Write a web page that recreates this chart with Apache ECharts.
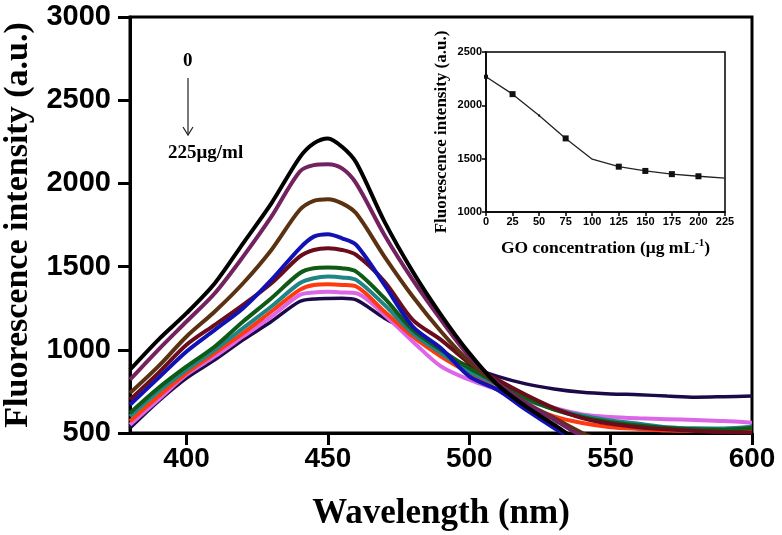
<!DOCTYPE html>
<html><head><meta charset="utf-8">
<script src="https://cdn.jsdelivr.net/npm/echarts@6/dist/echarts.min.js"></script>
<style>html,body{margin:0;padding:0;background:#fff}#c{width:782px;height:535px}</style>
</head><body><div id="c"></div>
<script>
const wavelengths = [380,390,400,410,420,430,440,445,450,455,460,470,480,490,500,510,520,530,540,550,560,570,580,590,600];
const concLabels = ['0','25','50','75','100','125','150','175','200','225'];
const s0   = [880,1060,1220,1400,1640,1880,2155,2240,2270,2220,2125,1770,1470,1210,980,790,660,550,440,380];
const s25  = [820,1000,1170,1340,1560,1800,2070,2110,2115,2090,2000,1690,1420,1180,960,800,680,580,480,420];
const s50  = [740,900,1080,1230,1400,1600,1840,1895,1905,1880,1820,1560,1320,1110,930,790,680,590,500,430];
const s75  = [670,830,990,1120,1250,1420,1610,1680,1694,1670,1630,1390,1140,1010,840,760,640,530,430];
const s100 = [700,860,1030,1150,1270,1400,1560,1600,1610,1600,1570,1410,1180,1060,920,820,730,650,590,555,535,522,512,506,503];
const s125 = [620,770,900,1020,1170,1310,1460,1490,1494,1490,1470,1310,1120,1000,890,800,710,640,595,565,545,530,522,520,530];
const s150 = [600,750,880,1000,1130,1260,1400,1430,1440,1435,1420,1270,1100,980,870,790,700,645,605,575,555,535,528,527,537];
const s175 = [570,720,860,980,1100,1230,1360,1390,1394,1390,1380,1230,1080,960,860,760,670,600,560,535,524,515,512,510,510];
const s200 = [550,700,850,960,1080,1200,1330,1345,1349,1345,1340,1210,1050,900,820,760,700,650,612,596,588,583,578,572,562];
const s225 = [530,690,830,940,1060,1170,1290,1305,1309,1310,1300,1190,1100,980,900,840,795,765,745,735,730,722,715,718,722];
const allSeries = [s0,s25,s50,s75,s100,s125,s150,s175,s200,s225];
const colors = ['#000000','#74215f','#5a3212','#1212b4','#6a0c1c','#0e5a16','#1f8585','#ff3a10','#dd66e8','#1c0a48'];

const insetX = [0,25,50,75,100,125,150,175,200,225];
const insetY = [2268,2105,1905,1690,1495,1425,1385,1355,1335,1318];
const insetMarker = [4,6,2,6,0,6,6,6,6,0];

const chart = echarts.init(document.getElementById('c'));
const series = allSeries.map((arr,i)=>({
  type:'line', name:concLabels[i], xAxisIndex:0, yAxisIndex:0,
  data: arr.map((v,j)=>[wavelengths[j],v]),
  showSymbol:false, symbol:'none', clip:true, smooth:0.3,
  lineStyle:{color:colors[i], width: i===9?3.5:4},
  z: 2 + (9-i)
}));
series.push({
  type:'line', xAxisIndex:1, yAxisIndex:1,
  data: insetX.map((x,i)=>[x,insetY[i]]),
  symbol:'rect', symbolSize:(v,p)=>insetMarker[p.dataIndex],
  itemStyle:{color:'#111'}, lineStyle:{color:'#222',width:1.3}, z:20
});
const plain = v => String(v);
const tickFont = {fontFamily:'Liberation Sans, Arial', fontWeight:'bold', color:'#000'};
chart.setOption({
  animation:false,
  backgroundColor:'#fff',
  grid:[
    {left:130,right:30,top:17,bottom:102,containLabel:false,outerBoundsMode:'none',show:true,borderColor:'#000',borderWidth:3,backgroundColor:'transparent'},
    {left:486,right:57,top:52,bottom:323,containLabel:false,outerBoundsMode:'none',show:true,borderColor:'#000',borderWidth:1.5,backgroundColor:'#fff',z:10}
  ],
  xAxis:[
    {type:'value',gridIndex:0,min:380,max:600,interval:50,
      axisLine:{show:true,lineStyle:{color:'#000',width:3}},
      axisTick:{show:true,length:12,inside:false,lineStyle:{width:3,color:'#000'},customValues:[400,450,500,550,600]},
      axisLabel:{...tickFont,fontSize:28,margin:12,customValues:[400,450,500,550,600],formatter:plain},
      splitLine:{show:false},
      name:'Wavelength (nm)',nameLocation:'middle',nameGap:63,
      nameTextStyle:{fontFamily:'Liberation Serif, Times New Roman',fontWeight:'bold',fontSize:35,color:'#000'}},
    {type:'value',gridIndex:1,min:0,max:225,interval:25,z:11,
      axisLine:{show:true,lineStyle:{color:'#000',width:1.5}},
      axisTick:{show:true,length:4,lineStyle:{width:1.5,color:'#000'}},
      axisLabel:{...tickFont,fontSize:11,margin:4,formatter:plain},
      splitLine:{show:false},
      name:'GO concentration (μg mL{s|-1})',nameLocation:'middle',nameGap:26,
      nameTextStyle:{fontFamily:'Liberation Serif, Times New Roman',fontWeight:'bold',fontSize:17.5,color:'#000',
        rich:{s:{fontFamily:'Liberation Serif',fontWeight:'bold',fontSize:11,verticalAlign:'top',padding:[0,0,9,0]}}}}
  ],
  yAxis:[
    {type:'value',gridIndex:0,min:500,max:3000,interval:500,
      axisLine:{show:true,lineStyle:{color:'#000',width:3}},
      axisTick:{show:true,length:12,lineStyle:{width:3,color:'#000'}},
      axisLabel:{...tickFont,fontSize:29,margin:19,formatter:plain},
      splitLine:{show:false},
      name:'Fluorescence intensity (a.u.)',nameLocation:'middle',nameGap:93,
      nameTextStyle:{fontFamily:'Liberation Serif, Times New Roman',fontWeight:'bold',fontSize:34,color:'#000'}},
    {type:'value',gridIndex:1,min:1000,max:2500,interval:500,z:11,
      axisLine:{show:true,lineStyle:{color:'#000',width:1.5}},
      axisTick:{show:true,length:4,lineStyle:{width:1.5,color:'#000'}},
      axisLabel:{...tickFont,fontSize:11,margin:4,formatter:plain},
      splitLine:{show:false},
      name:'Fluorescence intensity (a.u.)',nameLocation:'middle',nameGap:36,
      nameTextStyle:{fontFamily:'Liberation Serif, Times New Roman',fontWeight:'bold',fontSize:17,color:'#000'}}
  ],
  graphic:[
    {type:'text',left:183,top:52,style:{text:'0',font:'bold 19px "Liberation Serif"',fill:'#000'}},
    {type:'line',shape:{x1:188,y1:78,x2:188,y2:134},style:{stroke:'#222',lineWidth:1.2}},
    {type:'polyline',shape:{points:[[183,127],[188,135],[193,127]]},style:{stroke:'#222',lineWidth:1.2,fill:null}},
    {type:'text',left:168,top:144,style:{text:'225μg/ml',font:'bold 19px "Liberation Serif"',fill:'#000'}}
  ],
  series
});
</script></body></html>
